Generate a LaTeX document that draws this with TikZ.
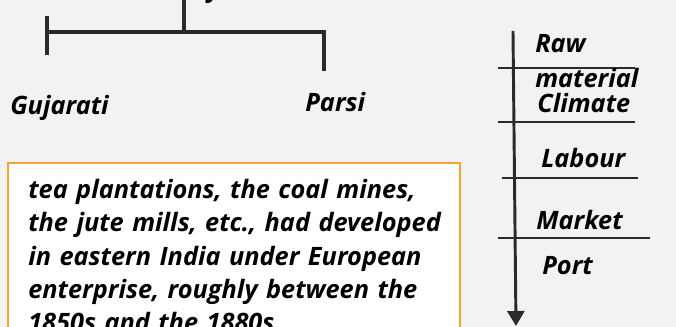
\documentclass[tikz,border=0pt]{standalone}
\usepackage{fontspec}
\setmainfont{Open Sans}[Ligatures=NoCommon]
\usetikzlibrary{arrows.meta,positioning}
\definecolor{linegray}{HTML}{2A2A2A}
\definecolor{boxorange}{HTML}{F5A431}
\definecolor{pagegray}{HTML}{F2F2F2}

\begin{document}
\begin{tikzpicture}[
        x=0.75pt,
        y=-0.75pt,
        tree line/.style={line width=2.3pt,draw=linegray},
        level line/.style={line width=2.2pt,draw=linegray},
        label text/.style={
            font=\fontsize{19}{22}\selectfont\bfseries\itshape,
            inner sep=0pt,anchor=base west
        },
        quote box/.style={draw=boxorange,line width=1.6pt,fill=white},
        quote text/.style={
            font=\fontsize{19}{25}\selectfont\bfseries\itshape,
            inner sep=0pt,anchor=north west,text width=330pt,align=left
        }
    ]
        % Page and its edges.
        \fill[pagegray] (0,0) rectangle (676,327);
        \clip (0,0) rectangle (676,327);

        % The cut-off heading above the tree.
        \node[label text,anchor=base] (heading) at (214,-2) {y};

        % The tree with its two branches.
        \coordinate (stem) at (184,-2);
        \coordinate (fork) at (184,32);
        \coordinate (leftend) at (45,32);
        \coordinate (rightcorner) at (324,32);
        \coordinate (lefttop) at (47,16);
        \coordinate (leftfoot) at (47,55);
        \coordinate (rightfoot) at (324,71);
        \draw[tree line] (stem) -- (fork);
        \draw[tree line] (leftend) -- (rightcorner) -- (rightfoot);
        \draw[tree line] (lefttop) -- (leftfoot);
        \node[label text] (gujarati) at (10,115) {Gujarati};
        \node[label text] (parsi) at (305,112) {Parsi};

        % The quoted passage in its box.
        \draw[quote box] (8,163) rectangle (460,345);
        \node[quote text] (passage) at (28,179) {tea plantations, the coal mines,\\
            the jute mills, etc., had developed\\
            in eastern India under European\\
            enterprise, roughly between the\\
            1850s and the 1880s.};

        % The factors along the downward arrow.
        \coordinate (axistop) at (513,31);
        \coordinate (axisfoot) at (516,326);
        \draw[level line,-{Triangle[width=12.75pt,length=11.25pt]}] (axistop) -- (axisfoot);
        \coordinate (rawleft) at (498,68);
        \coordinate (rawright) at (635,68);
        \coordinate (climleft) at (498,122);
        \coordinate (climright) at (635,122);
        \coordinate (lableft) at (502,178);
        \coordinate (labright) at (638,178);
        \coordinate (mktleft) at (498,238);
        \coordinate (mktright) at (650,238);
        \draw[level line] (rawleft) -- (rawright);
        \draw[level line] (climleft) -- (climright);
        \draw[level line] (lableft) -- (labright);
        \draw[level line] (mktleft) -- (mktright);
        \node[label text] (raw) at (535,53) {Raw};
        \node[label text] (material) at (535,88) {material};
        \node[label text] (climate) at (537,113) {Climate};
        \node[label text] (labour) at (541,168) {Labour};
        \node[label text] (market) at (536,230) {Market};
        \node[label text] (port) at (542,275) {Port};
    \end{tikzpicture}
\end{document}
